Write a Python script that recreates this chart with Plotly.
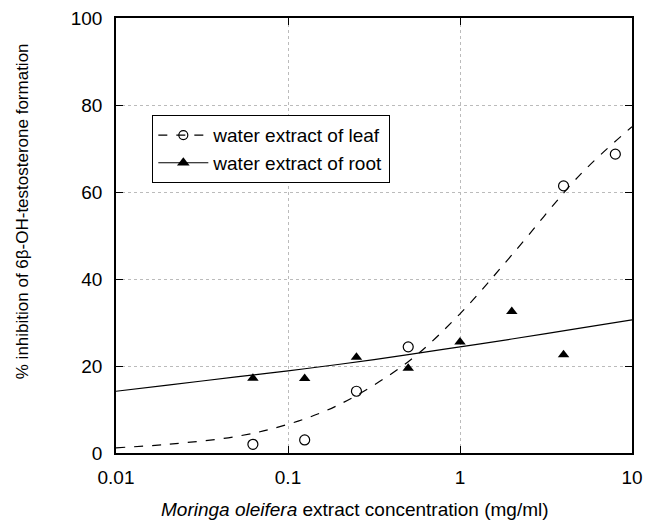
import plotly.graph_objects as go

# measured data
conc_leaf = [0.0625, 0.125, 0.25, 0.5, 4, 8]
inh_leaf = [2.0, 3.0, 14.2, 24.4, 61.4, 68.7]
conc_root = [0.0625, 0.125, 0.25, 0.5, 1, 2, 4]
inh_root = [17.2, 17.1, 22.0, 19.5, 25.5, 32.5, 22.6]

# fitted curves
fit_x = [0.01, 0.02, 0.05, 0.1, 0.2, 0.5, 1, 2, 5, 10]
fit_leaf = [1.2, 2.0, 3.8, 6.6, 11.2, 21.0, 32.0, 45.5, 64.0, 75.0]
fit_root = [14.2, 15.6, 17.5, 18.9, 20.4, 22.6, 24.4, 26.2, 28.7, 30.6]

x_ticks = [0.01, 0.1, 1, 10]
x_ticktext = ["0.01", "0.1", "1", "10"]
y_ticks = [0, 20, 40, 60, 80, 100]

x_title = "<i>Moringa oleifera</i> extract concentration (mg/ml)"
y_title = "% inhibition of 6β-OH-testosterone formation"

font = "Liberation Sans, Arial, sans-serif"
fig = go.Figure()
fig.add_trace(go.Scatter(x=fit_x, y=fit_leaf, mode="lines", line=dict(color="black", width=1.2, dash="dash", shape="spline"), showlegend=False))
fig.add_trace(go.Scatter(x=fit_x, y=fit_root, mode="lines", line=dict(color="black", width=1.2, shape="spline"), showlegend=False))
fig.add_trace(go.Scatter(x=conc_leaf, y=inh_leaf, mode="markers", marker=dict(symbol="circle-open", size=10, color="black", line=dict(width=1.2)), showlegend=False))
fig.add_trace(go.Scatter(x=conc_root, y=inh_root, mode="markers", marker=dict(symbol="triangle-up", size=10, color="black"), showlegend=False))
# legend entries
fig.add_trace(go.Scatter(x=[None], y=[None], mode="lines+markers", name="water extract of leaf",
                         line=dict(color="black", width=1.2, dash="dash"),
                         marker=dict(symbol="circle-open", size=9, color="black", line=dict(width=1.2))))
fig.add_trace(go.Scatter(x=[None], y=[None], mode="lines+markers", name="water extract of root",
                         line=dict(color="black", width=1.2),
                         marker=dict(symbol="triangle-up", size=11, color="black")))

axis_common = dict(showline=True, linecolor="black", linewidth=1.5, mirror="ticks", ticks="inside",
                   ticklen=7, tickcolor="black", showgrid=True, gridcolor="#bbbbbb", griddash="dot",
                   gridwidth=1, zeroline=False, automargin=False,
                   tickfont=dict(family=font, size=19, color="black"))
fig.update_xaxes(type="log", range=[-2, 1], tickvals=x_ticks, ticktext=x_ticktext, ticklabelstandoff=6,
                 **axis_common)
fig.update_yaxes(range=[0, 100], tickvals=y_ticks, ticklabelstandoff=8, **axis_common)
fig.add_annotation(text=x_title, xref="paper", yref="paper", x=0.463, y=-0.131, xanchor="center", yanchor="middle",
                   showarrow=False, font=dict(family=font, size=19, color="black"))
fig.add_annotation(text=y_title, xref="paper", yref="paper", x=-0.182, y=0.556, xanchor="center", yanchor="middle",
                   textangle=-90, showarrow=False, font=dict(family=font, size=17, color="black"))
fig.update_layout(width=650, height=525, margin=dict(l=116, r=18, t=18, b=72),
                  plot_bgcolor="white", paper_bgcolor="white",
                  legend=dict(x=0.07, y=0.777, xanchor="left", yanchor="top", bordercolor="black", borderwidth=1.2,
                              bgcolor="white", font=dict(family=font, size=19, color="black"), tracegroupgap=0,
                              itemwidth=50),
                  showlegend=True)
fig.write_html("out.html", config={"displayModeBar": False},
               post_script="document.body.style.margin='0';")
